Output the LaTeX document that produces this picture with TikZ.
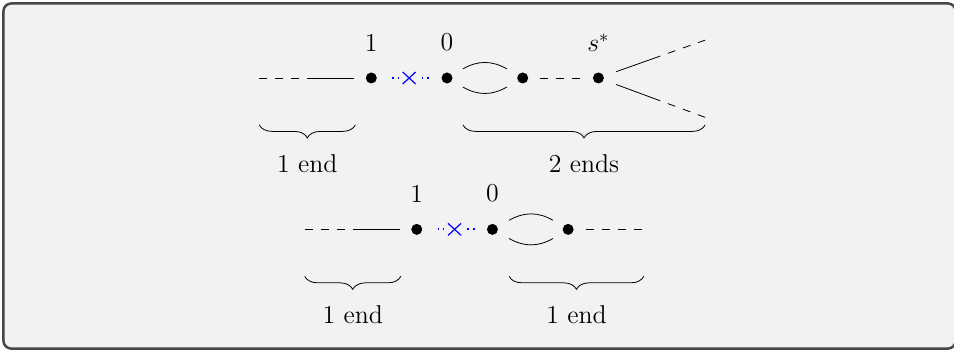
\documentclass[tikz,border=0pt]{standalone}
\usepackage{amsmath, amssymb}
\usepackage{xcolor}
\usepackage{tikz}
\usetikzlibrary{shapes.misc, positioning, calc, decorations.pathreplacing}
\DeclareFontShape{OML}{cmm}{m}{it}{<-> cmmi12}{}
\DeclareMathSizes{12.9}{12.9}{9}{7}

\begin{document}
\fontsize{12.9}{15}\selectfont
\begin{tikzpicture}[
        x=1.33cm, y=1.33cm,
        node distance=1.33cm, on grid,
        label distance=6pt,
        every label/.style={font=\fontsize{12.9}{15}\selectfont},
        vertex/.style={circle, fill, inner sep=0pt, minimum size=5.5pt},
        ray/.style={dash pattern=on 4pt off 4pt},
        cut/.style={blue, line width=0.9pt, dash pattern=on 0.9pt off 1.95pt},
        crossmark/.style={cross out, draw=blue, semithick, minimum width=6.5pt, minimum height=6pt, inner sep=0pt, outer sep=0pt},
        endbrace/.style={decorate, decoration={brace, mirror, amplitude=6.5pt}},
        frame/.style={draw=black!72, fill=black!5, line width=1.25pt, rounded corners=4pt}
    ]
        \useasboundingbox (-5.905,1.03) rectangle (6.697,-3.62);
        \draw[frame] (-5.86,0.985) rectangle (6.72,-3.575);

        % Top row
        \node[vertex, label=above:0] (t0) at (0,0) {};
        \node[vertex, left=of t0, label=above:1] (t1) {};
        \node[vertex, right=of t0] (t2) {};
        \node[vertex, right=of t2, label=above:$s^*$] (ts) {};
        \node[crossmark] (tx) at ($(t1)!0.5!(t0)$) {};

        \coordinate (tL) at ($(t1)+(-1.48,0)$);
        \coordinate (tM) at ($(t1)+(-0.845,0)$);
        \coordinate (tU) at ($(ts)+(1.41,0.5)$);
        \coordinate (tD) at ($(ts)+(1.41,-0.52)$);
        \coordinate (tUm) at ($(ts)!0.58!(tU)$);
        \coordinate (tDm) at ($(ts)!0.58!(tD)$);

        % Links
        \draw[ray] (tL) -- (tM);
        \draw[shorten >=5.5pt] (tM) -- (t1);
        \draw[cut, shorten <=7.5pt, shorten >=2pt] (t1) -- (tx);
        \draw[cut, shorten <=3pt, shorten >=5.5pt] (tx) -- (t0);
        \draw[ray, shorten <=5.5pt, shorten >=3pt] (t2) -- (ts);
        \draw[shorten <=6.5pt] (ts) -- (tUm);
        \draw[ray, dash phase=4pt] (tUm) -- (tU);
        \draw[shorten <=6.5pt] (ts) -- (tDm);
        \draw[ray, dash phase=4pt] (tDm) -- (tD);

        % Arcs
        \draw ($(t0)+(0.21,0.12)$) to[bend left=30] ($(t0)+(0.79,0.12)$);
        \draw ($(t0)+(0.21,-0.12)$) to[bend right=30] ($(t0)+(0.79,-0.12)$);

        % Ends
        \draw[endbrace] ($(tL)+(0,-0.62)$) -- node[below=10.3pt] {1 end} ($(t1)+(-0.21,-0.62)$);
        \draw[endbrace] ($(t0)+(0.21,-0.62)$) -- node[below=10.3pt] {2 ends} ($(ts)+(1.41,-0.62)$);

        % Bottom row
        \node[vertex, label=above:0] (b0) at (0.6,-2) {};
        \node[vertex, left=of b0, label=above:1] (b1) {};
        \node[vertex, right=of b0] (b2) {};
        \node[crossmark] (bx) at ($(b1)!0.5!(b0)$) {};

        \coordinate (bL) at ($(b1)+(-1.48,0)$);
        \coordinate (bM) at ($(b1)+(-0.845,0)$);
        \coordinate (bR) at ($(b2)+(0.98,0)$);

        % Links
        \draw[ray] (bL) -- (bM);
        \draw[shorten >=5.5pt] (bM) -- (b1);
        \draw[cut, shorten <=7.5pt, shorten >=2pt] (b1) -- (bx);
        \draw[cut, shorten <=3pt, shorten >=5.5pt] (bx) -- (b0);
        \draw[ray, shorten <=6pt] (b2) -- (bR);

        % Arcs
        \draw ($(b0)+(0.22,0.12)$) to[bend left=30] ($(b0)+(0.8,0.12)$);
        \draw ($(b0)+(0.22,-0.12)$) to[bend right=30] ($(b0)+(0.8,-0.12)$);

        % Ends
        \draw[endbrace] ($(bL)+(0,-0.62)$) -- node[below=10.3pt] {1 end} ($(b1)+(-0.21,-0.62)$);
        \draw[endbrace] ($(b0)+(0.22,-0.62)$) -- node[below=10.3pt] {1 end} ($(b0)+(2,-0.62)$);

    \end{tikzpicture}
\end{document}
